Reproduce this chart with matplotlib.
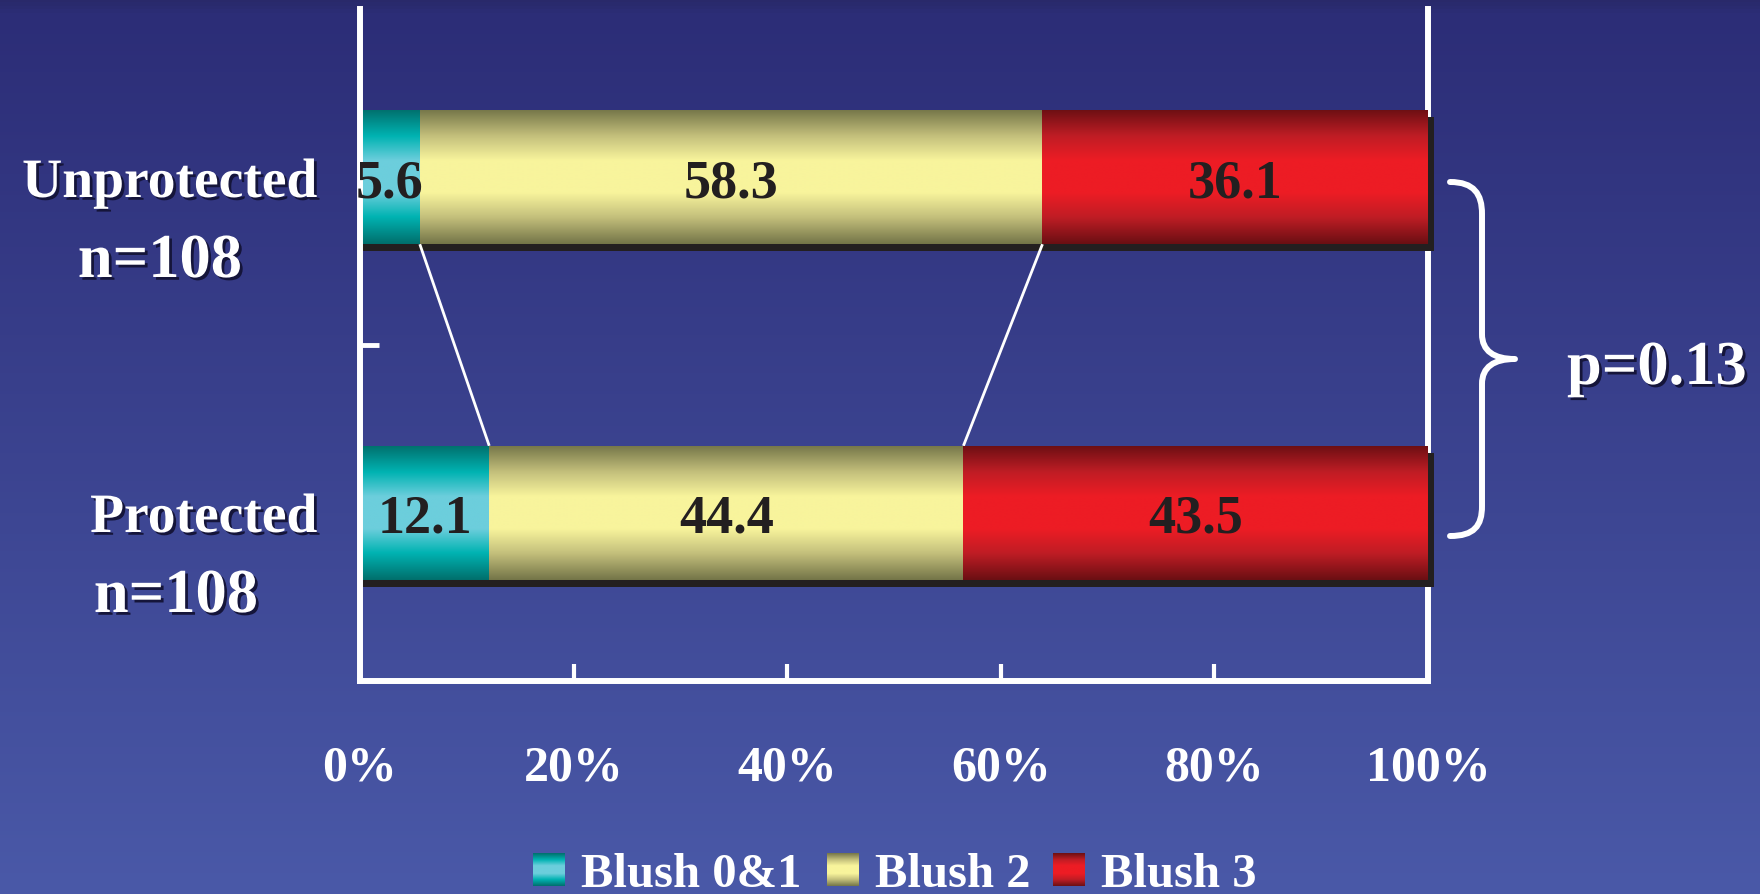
import numpy as np
import matplotlib
matplotlib.use("Agg")
import matplotlib.pyplot as plt
from matplotlib.colors import LinearSegmentedColormap
from matplotlib.path import Path
from matplotlib.patches import PathPatch
from matplotlib import transforms
import matplotlib.patheffects as pe

plt.rcParams["font.family"] = ["Liberation Serif", "DejaVu Serif"]

# ---- data -------------------------------------------------------------
categories = ["Unprotected", "Protected"]
group_sizes = ["n=108", "n=108"]
series_names = ["Blush 0&1", "Blush 2", "Blush 3"]
blush_01 = [5.6, 12.1]
blush_2 = [58.3, 44.4]
blush_3 = [36.1, 43.5]
x_ticks = [0, 20, 40, 60, 80, 100]
x_tick_labels = ["0%", "20%", "40%", "60%", "80%", "100%"]
p_value_text = "p=0.13"

# ---- style ------------------------------------------------------------
W, H = 1760, 895
TEXT_DARK = "#231f20"
WHITE = "white"


def tube(dark, mid, light):
    """Vertical 'cylinder' shading: dark edges, bright centre."""
    return LinearSegmentedColormap.from_list(
        "tube",
        [(0.0, dark), (0.2, mid), (0.38, light), (0.62, light), (0.8, mid), (1.0, dark)],
    )


series_cmaps = [
    tube("#006f6c", "#00b3b2", "#6ccedc"),
    tube("#747548", "#c4c07c", "#f8f49c"),
    tube("#6b0f13", "#c01d25", "#ed1c24"),
]
shade = np.linspace(0, 1, 256).reshape(-1, 1)
text_shadow = [pe.withSimplePatchShadow(offset=(2, -2), shadow_rgbFace="#15153a", alpha=1.0)]

fig = plt.figure(figsize=(W / 100, H / 100), dpi=100)

# backdrop gradient
bg = fig.add_axes([0, 0, 1, 1], zorder=0)
bg_cmap = LinearSegmentedColormap.from_list(
    "bg", [(0.0, "#29296a"), (0.015, "#2c2d77"), (1.0, "#4a59a8")]
)
bg.imshow(shade, cmap=bg_cmap, aspect="auto", extent=(0, 1, 0, 1), origin="upper")
bg.axis("off")

# ---- main stacked bars ------------------------------------------------
ax = fig.add_axes([360 / W, 1 - 682 / H, 1068 / W, 672 / H], zorder=1)
ax.set_facecolor("none")

ypos = np.arange(len(categories)) + 0.5
bar_h = 0.4
series = [np.array(blush_01), np.array(blush_2), np.array(blush_3)]
totals = sum(series)

# drop shadow below / right of each bar
for dx in (0, 6):
    tr = transforms.offset_copy(ax.transData, fig=fig, x=dx, y=-7, units="dots")
    ax.barh(ypos, totals, height=bar_h, color=TEXT_DARK, transform=tr, zorder=3,
            clip_on=False)

lefts = np.zeros(len(categories))
cum_edges = []
for vals, cmap in zip(series, series_cmaps):
    bars = ax.barh(ypos, vals, left=lefts, height=bar_h, color="none",
                   edgecolor="none", zorder=4, clip_on=False)
    for patch, v in zip(bars.patches, vals):
        x0, y0 = patch.get_x(), patch.get_y()
        im = ax.imshow(shade, cmap=cmap, aspect="auto", interpolation="bilinear",
                       extent=(x0, x0 + patch.get_width(), y0 + patch.get_height(), y0),
                       zorder=4)
        im.set_clip_path(patch)
        ax.text(x0 + patch.get_width() / 2, y0 + patch.get_height() / 2, f"{v:.1f}",
                ha="center", va="center_baseline", fontsize=39, fontweight="bold",
                color=TEXT_DARK, zorder=6)
    lefts = lefts + vals
    cum_edges.append(lefts.copy())

# series lines joining segment boundaries between the two bars
for edges in cum_edges[:-1]:
    ax.plot([edges[0], edges[1]], [ypos[0] + bar_h / 2, ypos[1] - bar_h / 2],
            color=WHITE, lw=2, zorder=3.5, solid_capstyle="butt")

ax.set_xlim(0, 100)
ax.set_ylim(len(categories), 0)

ax.spines["top"].set_visible(False)
for name, z in (("left", 5), ("right", 2), ("bottom", 2.5)):
    ax.spines[name].set_color(WHITE)
    ax.spines[name].set_linewidth(4.3)
    ax.spines[name].set_zorder(z)

ax.set_xticks(x_ticks, x_tick_labels)
ax.tick_params(axis="x", direction="in", length=12, width=3, color=WHITE,
               labelcolor=WHITE, labelsize=36, pad=46)
for t in ax.get_xticklabels():
    t.set_fontweight("bold")
ax.set_yticks(np.arange(1, len(categories)))
ax.set_yticklabels([])
ax.tick_params(axis="y", direction="in", length=13.5, width=3.5, color=WHITE)

# ---- overlay: category labels, brace, p-value, legend ---------------
ov = fig.add_axes([0, 0, 1, 1], zorder=2)
ov.axis("off")

label_style = dict(fontweight="bold", color=WHITE, path_effects=text_shadow)
ov.text(317, 198, categories[0], ha="right", va="baseline", fontsize=40, **label_style)
ov.text(160, 278, group_sizes[0], ha="center", va="baseline", fontsize=45, **label_style)
ov.text(317, 533, categories[1], ha="right", va="baseline", fontsize=40, **label_style)
ov.text(176, 613, group_sizes[1], ha="center", va="baseline", fontsize=45, **label_style)

# curly brace spanning both bars
brace = Path(
    [(1450, 183), (1474, 183), (1482, 195), (1482, 215),
     (1482, 335),
     (1482, 352), (1494, 360), (1515, 360),
     (1494, 360), (1482, 368), (1482, 385),
     (1482, 507),
     (1482, 527), (1474, 537), (1450, 537)],
    [Path.MOVETO, Path.CURVE4, Path.CURVE4, Path.CURVE4,
     Path.LINETO,
     Path.CURVE4, Path.CURVE4, Path.CURVE4,
     Path.CURVE4, Path.CURVE4, Path.CURVE4,
     Path.LINETO,
     Path.CURVE4, Path.CURVE4, Path.CURVE4],
)
ov.add_patch(PathPatch(brace, facecolor="none", edgecolor=WHITE, lw=4.3,
                       capstyle="round", joinstyle="round"))
ov.text(1567, 385, p_value_text, ha="left", va="baseline", fontsize=45, **label_style)

# legend
legend_x = [533, 827, 1053]
for x, name, cmap in zip(legend_x, series_names, series_cmaps):
    ov.imshow(shade, cmap=cmap, aspect="auto", interpolation="bilinear",
              extent=(x, x + 32, 887, 854))
    ov.text(x + 48, 887, name, ha="left", va="baseline", fontsize=35,
            fontweight="bold", color=WHITE)

ov.set_xlim(0, W)
ov.set_ylim(H, 0)

fig.savefig("out.png", dpi=100)
